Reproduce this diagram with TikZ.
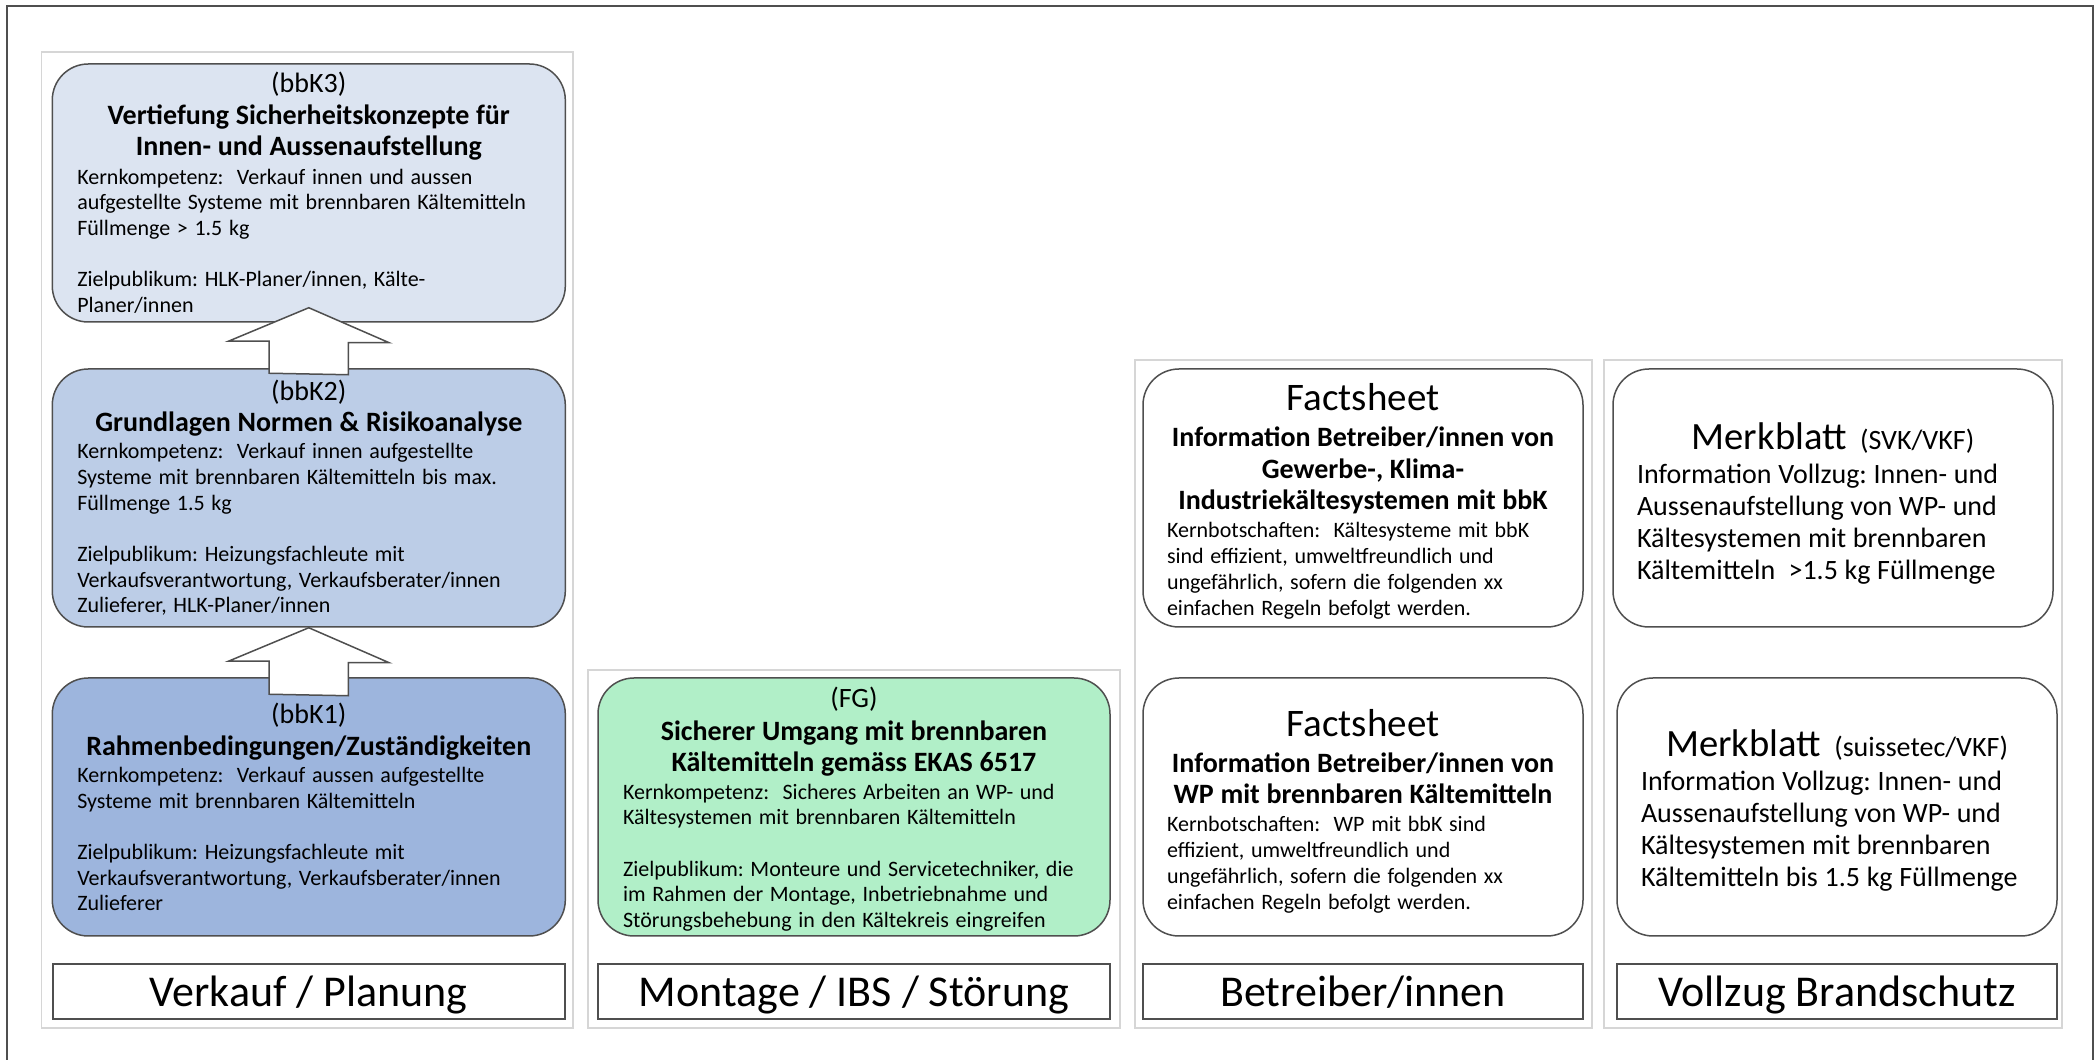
\documentclass[tikz,border=0pt]{standalone}
\usepackage{fontspec}
\setmainfont{Carlito}
\usepackage{tikz}
\frenchspacing
\hyphenpenalty=10000
\exhyphenpenalty=10000

\definecolor{kthree}{HTML}{DCE4F1}
\definecolor{ktwo}{HTML}{BCCDE7}
\definecolor{kone}{HTML}{9DB5DD}
\definecolor{fgreen}{HTML}{B1EFC8}
\definecolor{edge}{HTML}{4F4F4F}
\definecolor{colframe}{HTML}{D6D6D6}

\begin{document}
\begin{tikzpicture}[
  column/.style={draw=colframe, line width=0.75pt, minimum width=#1},
  kbox/.style={draw=edge, line width=0.75pt, rounded corners=18pt, text width=231.5pt,
    inner xsep=12.5pt, minimum height=129pt, align=left},
  fgbox/.style={kbox, text width=231pt},
  infobox/.style={kbox, fill=white, text width=196pt, inner xsep=12pt},
  lbl/.style={draw=edge, line width=0.75pt, minimum width=#1, minimum height=27.5pt,
    inner ysep=0pt, text height=20.5pt, text depth=5pt, font=\fontsize{22}{22}\selectfont},
  uparrow/.style={draw=edge, line width=0.75pt, fill=white, line join=miter}
]
\useasboundingbox (0,0) rectangle (1047.5pt,530pt);
\draw[draw=edge, line width=1pt] (3.5pt,0pt) -- (3.5pt,527pt) -- (1046.3pt,527pt) -- (1046.3pt,0pt);

\node[column=265.9pt, minimum height=488pt] (c1) at (153.6pt,260pt) {};
\node[column=266pt, minimum height=179pt] (c2) at (427pt,105.5pt) {};
\node[column=228.5pt, minimum height=334pt] (c3) at (681.75pt,183pt) {};
\node[column=229pt, minimum height=334pt] (c4) at (916.5pt,183pt) {};

\node[kbox, fill=kthree] (k3) at (154.4pt,433.5pt) {%
{\centering\fontsize{14}{16}\selectfont (bbK3)\par}
{\centering\bfseries\fontsize{14}{15.75}\selectfont Vertiefung Sicherheitskonzepte für\\Innen- und Aussenaufstellung\par}
\vspace{1.2pt}
\fontsize{11}{12.85}\selectfont Kernkompetenz:~ Verkauf innen und aussen\\aufgestellte Systeme mit brennbaren Kältemitteln\\Füllmenge > 1.5 kg\\[12.85pt]Zielpublikum: HLK-Planer/innen, Kälte-\\Planer/innen\par};
\node[kbox, fill=ktwo] (k2) at (154.4pt,281pt) {%
{\centering\fontsize{14}{16}\selectfont (bbK2)\par}
{\centering\bfseries\fontsize{14}{15.5}\selectfont Grundlagen Normen \& Risikoanalyse\par}
\vspace{0.7pt}
\fontsize{11}{12.85}\selectfont Kernkompetenz:~ Verkauf innen aufgestellte\\Systeme mit brennbaren Kältemitteln bis max.\\Füllmenge 1.5 kg\\[12.85pt]Zielpublikum: Heizungsfachleute mit\\Verkaufsverantwortung, Verkaufsberater/innen\\Zulieferer, HLK-Planer/innen\par};
\node[kbox, fill=kone] (k1) at (154.4pt,126.5pt) {%
{\centering\fontsize{14}{16}\selectfont (bbK1)\par}
{\centering\bfseries\fontsize{14}{16}\selectfont Rahmenbedingungen/Zuständigkeiten\par}
\vspace{0.7pt}
\fontsize{11}{12.85}\selectfont Kernkompetenz:~ Verkauf aussen aufgestellte\\Systeme mit brennbaren Kältemitteln\\[12.85pt]Zielpublikum: Heizungsfachleute mit\\Verkaufsverantwortung, Verkaufsberater/innen\\Zulieferer\par};

\node[fgbox, fill=fgreen] (fg) at (427pt,126.5pt) {%
{\centering\fontsize{14}{16}\selectfont (FG)\par}
\vspace{1pt}
{\centering\bfseries\fontsize{14}{15.5}\selectfont Sicherer Umgang mit brennbaren\\Kältemitteln gemäss EKAS 6517\par}
\vspace{1.2pt}
\fontsize{11}{12.85}\selectfont Kernkompetenz:~ Sicheres Arbeiten an WP- und\\Kältesystemen mit brennbaren Kältemitteln\\[12.85pt]Zielpublikum: Monteure und Servicetechniker, die\\im Rahmen der Montage, Inbetriebnahme und\\Störungsbehebung in den Kältekreis eingreifen\par\kern-2pt};

\node[infobox] (f1) at (681.5pt,281pt) {%
{\centering\fontsize{19.5}{19.5}\selectfont Factsheet\par}
\vspace{2.2pt}
{\centering\bfseries\fontsize{14}{15.75}\selectfont Information Betreiber/innen von\\Gewerbe-, Klima-\\Industriekältesystemen mit bbK\par}
\vspace{1.1pt}
\fontsize{11}{12.9}\selectfont Kernbotschaften:~ Kältesysteme mit bbK\\sind effizient, umweltfreundlich und\\ungefährlich, sofern die folgenden xx\\einfachen Regeln befolgt werden.\par\kern-3.4pt};
\node[infobox] (f2) at (681.5pt,126.5pt) {%
{\centering\fontsize{19.5}{19.5}\selectfont Factsheet\par}
\vspace{2.2pt}
{\centering\bfseries\fontsize{14}{15.75}\selectfont Information Betreiber/innen von\\WP mit brennbaren Kältemitteln\par}
\vspace{1.1pt}
\fontsize{11}{12.9}\selectfont Kernbotschaften:~ WP mit bbK sind\\effizient, umweltfreundlich und\\ungefährlich, sofern die folgenden xx\\einfachen Regeln befolgt werden.\par\kern-4pt};

\node[infobox] (m1) at (916.5pt,281pt) {%
{\centering\fontsize{19.3}{19.3}\selectfont Merkblatt~ {\fontsize{14}{14}\selectfont (SVK/VKF)}\par}
\vspace{1pt}
\fontsize{14}{16}\selectfont Information Vollzug: Innen- und\\Aussenaufstellung von WP- und\\Kältesystemen mit brennbaren\\Kältemitteln~ >1.5 kg Füllmenge\par\kern-6pt};
\node[infobox] (m2) at (918.5pt,126.5pt) {%
{\centering\fontsize{19.3}{19.3}\selectfont Merkblatt~ {\fontsize{14}{14}\selectfont (suissetec/VKF)}\par}
\vspace{1pt}
\fontsize{14}{16}\selectfont Information Vollzug: Innen- und\\Aussenaufstellung von WP- und\\Kältesystemen mit brennbaren\\Kältemitteln bis 1.5 kg Füllmenge\par\kern-4pt};

\node[lbl=256pt] (l1) at (154.4pt,34.25pt) {Verkauf / Planung};
\node[lbl=256pt] (l2) at (427pt,34.25pt) {Montage / IBS / Störung};
\node[lbl=220pt] (l3) at (681.5pt,34.25pt) {Betreiber/innen};
\node[lbl=220pt] (l4) at (918.5pt,34.25pt) {Vollzug Brandschutz};

\draw[uparrow] ([shift={(-19.8pt,-2.5pt)}]k2.north) -- ++(0,16pt) -- ++(-20.4pt,0)
  -- ([yshift=7.5pt]k3.south) -- ++(40.2pt,-17.5pt) -- ++(-20.4pt,0) -- ++(0,-16pt) -- cycle;
\draw[uparrow] ([shift={(-19.8pt,-8.5pt)}]k1.north) -- ++(0,16.5pt) -- ++(-20.4pt,0)
  -- (k2.south) -- ++(40.2pt,-17.5pt) -- ++(-20.4pt,0) -- ++(0,-16.5pt) -- cycle;
\end{tikzpicture}
\end{document}
